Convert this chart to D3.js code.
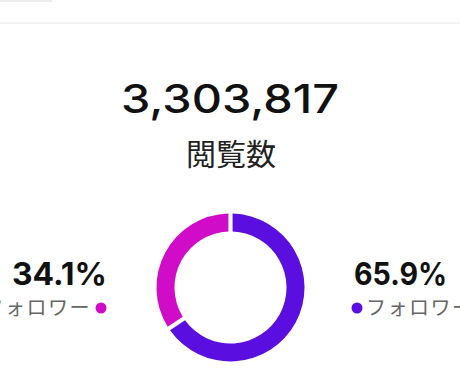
<!DOCTYPE html>
<html>
<head>
<meta charset="utf-8">
<script src="https://cdn.jsdelivr.net/npm/d3@7"></script>
<style>
  html, body { margin: 0; padding: 0; background: #fff; overflow: hidden; }
  svg { display: block; }
</style>
</head>
<body>
<div id="chart"></div>
<script>
const totalViews = 3303817;
const totalLabel = "閲覧数";
const categories = ["フォロワー", "非フォロワー"];
const shares = [65.9, 34.1];
const colors = ["#5a0fe0", "#d00cc8"];

const width = 460, height = 380;
const latin = "Inter, 'Noto Sans', sans-serif";
const cjk = "'Noto Sans CJK JP', 'Noto Sans', sans-serif";

const svg = d3.select("#chart").append("svg")
    .attr("width", width)
    .attr("height", height);

// faint header remains at the top
svg.append("rect").attr("x", 0).attr("y", 0).attr("width", 52).attr("height", 2).attr("fill", "#ececec");
svg.append("rect").attr("x", 0).attr("y", 22).attr("width", width).attr("height", 2).attr("fill", "#f3f3f3");

svg.append("text")
    .attr("x", 230).attr("y", 113)
    .attr("text-anchor", "middle")
    .attr("font-family", latin)
    .attr("font-weight", 500)
    .attr("font-size", 40)
    .attr("fill", "#111")
    .attr("textLength", 218)
    .attr("lengthAdjust", "spacingAndGlyphs")
    .text(d3.format(",")(totalViews));

svg.append("text")
    .attr("x", 231).attr("y", 165)
    .attr("text-anchor", "middle")
    .attr("font-family", cjk)
    .attr("font-size", 30)
    .attr("fill", "#222")
    .text(totalLabel);

// donut
const cx = 230.5, cy = 287.5;
const pie = d3.pie().sort(null).value(d => d).padAngle(0.045);
const arc = d3.arc().innerRadius(56).outerRadius(74);
const arcs = pie(shares);

svg.append("g")
    .attr("transform", `translate(${cx}, ${cy})`)
    .selectAll("path")
    .data(arcs)
    .join("path")
    .attr("d", arc)
    .attr("fill", (d, i) => colors[i]);

// right legend (followers)
const fmt = v => d3.format(".1f")(v) + "%";
svg.append("text")
    .attr("x", 354).attr("y", 285)
    .attr("font-family", latin)
    .attr("font-weight", 700)
    .attr("font-size", 31)
    .attr("fill", "#111")
    .attr("textLength", 93)
    .attr("lengthAdjust", "spacingAndGlyphs")
    .text(fmt(shares[0]));
svg.append("circle")
    .attr("cx", 357).attr("cy", 308).attr("r", 5.5)
    .attr("fill", colors[0]);
svg.append("text")
    .attr("x", 366).attr("y", 315)
    .attr("font-family", cjk)
    .attr("font-size", 20)
    .attr("letter-spacing", 1.5)
    .attr("fill", "#666")
    .text(categories[0]);

// left legend (non-followers)
svg.append("text")
    .attr("x", 107).attr("y", 285)
    .attr("text-anchor", "end")
    .attr("font-family", latin)
    .attr("font-weight", 700)
    .attr("font-size", 31)
    .attr("fill", "#111")
    .attr("textLength", 95)
    .attr("lengthAdjust", "spacingAndGlyphs")
    .text(fmt(shares[1]));
svg.append("circle")
    .attr("cx", 101).attr("cy", 308).attr("r", 5.5)
    .attr("fill", colors[1]);
svg.append("text")
    .attr("x", 91).attr("y", 315)
    .attr("text-anchor", "end")
    .attr("font-family", cjk)
    .attr("font-size", 20)
    .attr("letter-spacing", 1.5)
    .attr("fill", "#666")
    .text(categories[1]);
</script>
</body>
</html>
